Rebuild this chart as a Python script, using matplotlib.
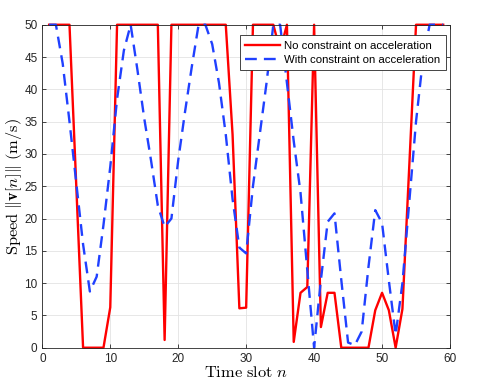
import matplotlib
matplotlib.use('Agg')
from matplotlib import pyplot as plt

plt.rcParams['font.family'] = 'Liberation Sans'
plt.rcParams['mathtext.fontset'] = 'cm'

# time slots and speed (m/s)
slots = list(range(1, 60))

speed_free = [50, 50, 50, 50, 25, 0, 0, 0, 0, 6.25,
              50, 50, 50, 50, 50, 50, 50, 1.2, 50, 50,
              50, 50, 50, 50, 50, 50, 50, 33, 6.1, 6.2,
              50, 50, 50, 50, 46, 50, 0.9, 8.5, 9.4, 50,
              3.2, 8.5, 8.5, 0, 0, 0, 0, 0, 5.8, 8.5,
              5.8, 0, 6, 28, 50, 50, 50, 50, 50]

speed_acc = [50, 50, 44, 35, 25.5, 16, 8.7, 11, 19, 28,
             38.5, 46, 50, 43, 35.5, 29, 22, 18.7, 20, 29,
             36.5, 43.5, 50, 50, 47, 41, 33, 23, 15.5, 14.6,
             25, 33, 41, 50, 50, 41, 32, 24, 12, 0,
             10.5, 19.5, 20.8, 10.5, 0.8, 0.4, 2.5, 12.5, 21.3, 19.3,
             10.4, 2, 10, 22.5, 35, 44.5, 50, 50, 50]

fig = plt.figure(figsize=(4.99, 3.91), dpi=100)
ax = fig.add_axes([0.0848, 0.1107, 0.817, 0.826])

ax.plot(slots, speed_free, color='#ff0000', lw=1.7, clip_on=False,
        label='No constraint on acceleration')
ax.plot(slots, speed_acc, color='#2040ff', lw=1.7, ls='--', dashes=(5, 3),
        clip_on=False, label='With constraint on acceleration')

ax.set_xlim(0, 60)
ax.set_ylim(0, 50)
ax.set_xticks(range(0, 61, 10))
ax.set_yticks(range(0, 51, 5))
ax.grid(True, color='#e3e3e3', lw=0.6)
ax.set_axisbelow(True)

ax.tick_params(direction='in', top=True, right=True, length=3,
               labelsize=8.5, colors='#262626', width=0.6)
for s in ax.spines.values():
    s.set_color('#262626')
    s.set_linewidth(0.6)

ax.set_xlabel(r'$\mathrm{Time\ slot}\ n$', fontsize=11.8, labelpad=0)
ax.set_ylabel(r'$\mathrm{Speed}\ \Vert\mathbf{v}[n]\Vert\ \mathrm{(m/s)}$',
              fontsize=11.8, labelpad=0)

leg = ax.legend(loc='upper right', bbox_to_anchor=(0.99, 0.968), fontsize=8.2,
                fancybox=False, framealpha=1, edgecolor='#262626',
                handlelength=3.0, borderpad=0.5, labelspacing=0.35,
                handletextpad=0.4, borderaxespad=0)
leg.get_frame().set_linewidth(0.6)
leg.set_zorder(5)

plt.savefig('out.png')
